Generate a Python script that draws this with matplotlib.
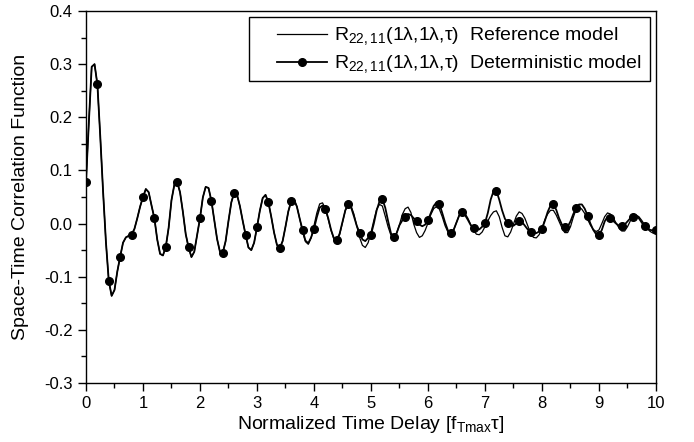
import numpy as np
import matplotlib
matplotlib.use("Agg")
import matplotlib.pyplot as plt
import matplotlib.ticker as ticker
from matplotlib.patches import Rectangle
from matplotlib.lines import Line2D

plt.rcParams.update({
    "font.family": ["Liberation Sans", "DejaVu Sans"],
    "mathtext.fontset": "custom",
    "mathtext.rm": "Liberation Sans",
    "axes.unicode_minus": False,
    "axes.linewidth": 1.0,
})

# Normalized time delay, sampled every 0.05
TAU_START = 0.0
TAU_STEP = 0.05

# Reference model R_22,11(1l,1l,tau)
REF = [
    0.078, 0.190, 0.295, 0.300, 0.262, 0.165, 0.060, -0.035, -0.108, -0.136,
    -0.125, -0.090, -0.062, -0.036, -0.026, -0.023, -0.021, -0.010, 0.010, 0.032,
    0.050, 0.065, 0.059, 0.034, 0.010, -0.030, -0.057, -0.060, -0.044, -0.008,
    0.044, 0.073, 0.078, 0.059, 0.022, -0.020, -0.045, -0.063, -0.053, -0.022,
    0.010, 0.049, 0.069, 0.067, 0.043, 0.007, -0.029, -0.053, -0.055, -0.033,
    0.005, 0.040, 0.058, 0.054, 0.033, 0.005, -0.021, -0.045, -0.050, -0.036,
    -0.007, 0.024, 0.048, 0.054, 0.040, 0.013, -0.017, -0.040, -0.046, -0.033,
    -0.006, 0.023, 0.042, 0.045, 0.032, 0.009, -0.016, -0.034, -0.039, -0.027,
    -0.004, 0.020, 0.037, 0.039, 0.028, 0.008, -0.013, -0.029, -0.033, -0.021,
    0.002, 0.025, 0.037, 0.033, 0.018, -0.004, -0.026, -0.041, -0.045, -0.036,
    -0.017, 0.006, 0.027, 0.036, 0.033, 0.014, -0.006, -0.022, -0.026, -0.018,
    -0.002, 0.017, 0.028, 0.031, 0.021, -0.001, -0.017, -0.026, -0.023, -0.013,
    0.001, 0.017, 0.028, 0.032, 0.027, 0.013, -0.004, -0.016, -0.020, -0.012,
    0.002, 0.016, 0.022, 0.019, 0.010, -0.002, -0.013, -0.020, -0.021, -0.016,
    -0.006, 0.005, 0.015, 0.022, 0.024, 0.013, -0.007, -0.023, -0.025, -0.016,
    -0.001, 0.014, 0.022, 0.019, 0.010, -0.004, -0.018, -0.026, -0.027, -0.021,
    -0.009, 0.007, 0.018, 0.025, 0.025, 0.016, 0.004, -0.008, -0.017, -0.017,
    -0.006, 0.012, 0.027, 0.031, 0.027, 0.019, 0.008, -0.003, -0.011, -0.015,
    -0.012, 0.000, 0.013, 0.020, 0.018, 0.011, 0.001, -0.008, -0.014, -0.014,
    -0.006, 0.005, 0.014, 0.016, 0.013, 0.006, -0.002, -0.010, -0.015, -0.018,
    -0.016,
]

# Deterministic model, same sampling; markers every 0.2
DET = REF[:73] + [
    0.045, 0.032, 0.009, -0.012, -0.032, -0.037, -0.026,
    -0.010, 0.012, 0.030, 0.034, 0.028, 0.010, -0.012, -0.028, -0.031, -0.019,
    0.003, 0.025, 0.036, 0.031, 0.014, -0.004, -0.017, -0.030, -0.033, -0.027,
    -0.021, 0.000, 0.025, 0.042, 0.046, 0.030, 0.005, -0.018, -0.025, -0.018,
    -0.003, 0.006, 0.013, 0.018, 0.016, 0.010, 0.005, -0.002, -0.005, -0.002,
    0.006, 0.020, 0.033, 0.040, 0.037, 0.020, 0.002, -0.013, -0.018, -0.012,
    0.002, 0.016, 0.021, 0.016, 0.007, -0.003, -0.008, -0.011, -0.011, -0.006,
    0.001, 0.020, 0.045, 0.061, 0.062, 0.045, 0.025, 0.009, 0.002, -0.003,
    -0.004, 0.000, 0.004, 0.003, -0.004, -0.011, -0.015, -0.018, -0.018, -0.015,
    -0.010, 0.005, 0.022, 0.034, 0.036, 0.026, 0.010, -0.002, -0.007, -0.006,
    0.004, 0.018, 0.029, 0.036, 0.036, 0.028, 0.015, 0.000, -0.012, -0.020,
    -0.022, -0.012, 0.004, 0.013, 0.011, 0.005, 0.000, -0.004, -0.005, -0.002,
    0.004, 0.010, 0.013, 0.014, 0.010, 0.002, -0.005, -0.009, -0.012, -0.013,
    -0.013,
]

REF_LABEL = r"R$_\mathregular{22,11}$(1λ,1λ,τ)  Reference model"
DET_LABEL = r"R$_\mathregular{22,11}$(1λ,1λ,τ)  Deterministic model"


def main():
    tau = TAU_START + TAU_STEP * np.arange(len(REF))

    fig = plt.figure(figsize=(6.94, 4.42), dpi=100)
    ax = fig.add_axes([0.1239, 0.1335, 0.8213, 0.8416])

    ax.plot(tau, REF, color="black", lw=0.9)
    ax.plot(tau, DET, color="black", lw=1.3, marker="o", ms=5.5,
            markevery=4)

    ax.set_xlim(0, 10)
    ax.set_ylim(-0.3, 0.4)
    ax.xaxis.set_major_locator(ticker.MultipleLocator(1))
    ax.xaxis.set_minor_locator(ticker.MultipleLocator(0.5))
    ax.yaxis.set_major_locator(ticker.MultipleLocator(0.1))
    ax.yaxis.set_minor_locator(ticker.MultipleLocator(0.05))
    ax.yaxis.set_major_formatter(ticker.FormatStrFormatter("%.1f"))
    ax.tick_params(which="major", direction="out", length=6, width=1,
                   labelsize=12, top=False, right=False)
    ax.tick_params(which="minor", direction="out", length=3.5, width=1,
                   top=False, right=False)

    ax.set_xlabel(r"Normalized Time Delay [f$_\mathregular{Tmax}$τ]",
                  fontsize=14, labelpad=2)
    ax.set_ylabel("Space-Time Correlation Function", fontsize=14, labelpad=11)

    # legend box drawn like the original
    ax.add_patch(Rectangle((0.286, 0.812), 0.703, 0.172,
                           transform=ax.transAxes, facecolor="white",
                           edgecolor="black", lw=1.0, zorder=4))
    handles = [
        Line2D([], [], color="black", lw=0.9),
        Line2D([], [], color="black", lw=1.3, marker="o", ms=5.5),
    ]
    leg = ax.legend(handles, [REF_LABEL, DET_LABEL], loc="upper left",
                    bbox_to_anchor=(0.332, 0.965), frameon=False, fontsize=14,
                    handlelength=2.55, handletextpad=0.35, labelspacing=0.3,
                    borderpad=0.1, borderaxespad=0.0)
    leg.set_zorder(5)

    fig.savefig("out.png", dpi=100)
    plt.close(fig)


if __name__ == "__main__":
    main()
